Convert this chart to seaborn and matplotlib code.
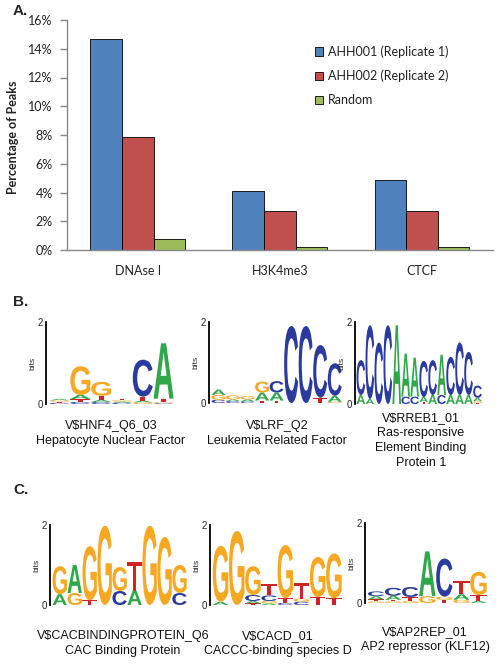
import pandas as pd
import matplotlib
matplotlib.use("Agg")
import matplotlib.pyplot as plt
import matplotlib.transforms as mtransforms
from matplotlib.textpath import TextPath
from matplotlib.patches import PathPatch
from matplotlib.font_manager import FontProperties
from matplotlib.ticker import FuncFormatter
import seaborn as sns

# Panel A data (percentage of peaks)
marks = ["DNAse I", "H3K4me3", "CTCF"]
samples = ["AHH001 (Replicate 1)", "AHH002 (Replicate 2)", "Random"]
rep1 = [14.7, 4.1, 4.9]
rep2 = [7.85, 2.7, 2.7]
rand = [0.75, 0.2, 0.2]
bar_colors = ["#4F81BD", "#C0504D", "#9BBB59"]

# Panels B and C: sequence logos, each position = stack of (letter, bits) from bottom to top
hnf4 = [[("C", 0.03), ("T", 0.03), ("G", 0.03), ("A", 0.03)],
        [("C", 0.05), ("T", 0.07), ("A", 0.1), ("G", 0.7)],
        [("C", 0.05), ("A", 0.05), ("T", 0.1), ("G", 0.34)],
        [("C", 0.03), ("A", 0.03), ("G", 0.03), ("T", 0.04)],
        [("G", 0.04), ("A", 0.04), ("T", 0.1), ("C", 0.9)],
        [("C", 0.02), ("G", 0.02), ("T", 0.09), ("A", 1.35)]]
lrf = [[("C", 0.08), ("G", 0.12), ("A", 0.13)],
       [("C", 0.05), ("A", 0.04), ("G", 0.1)],
       [("C", 0.04), ("A", 0.05), ("G", 0.08)],
       [("T", 0.06), ("A", 0.2), ("G", 0.27)],
       [("T", 0.06), ("A", 0.2), ("C", 0.28)],
       [("C", 1.9)],
       [("C", 1.9)],
       [("T", 0.13), ("C", 1.3)],
       [("G", 0.03), ("A", 0.15), ("C", 0.8)]]
rreb1 = [[("A", 0.22), ("C", 0.85)],
         [("A", 0.12), ("C", 1.8)],
         [("C", 1.5)],
         [("C", 1.92)],
         [("A", 1.92)],
         [("C", 0.18), ("A", 1.05)],
         [("C", 0.18), ("A", 0.95)],
         [("T", 0.05), ("A", 0.12), ("C", 0.88)],
         [("A", 0.22), ("C", 0.85)],
         [("C", 0.22), ("A", 0.98)],
         [("A", 0.22), ("C", 0.93)],
         [("A", 0.22), ("C", 1.28)],
         [("A", 0.22), ("C", 1.05)],
         [("T", 0.03), ("G", 0.04), ("A", 0.08), ("C", 0.3)]]
cacbp = [[("A", 0.27), ("G", 0.7)],
         [("G", 0.3), ("A", 0.7)],
         [("T", 0.12), ("G", 1.35)],
         [("G", 1.98)],
         [("C", 0.35), ("G", 0.6)],
         [("A", 0.36), ("T", 0.72)],
         [("G", 1.98)],
         [("G", 1.7)],
         [("C", 0.3), ("G", 0.7)]]
cacd = [[("A", 0.08), ("G", 1.4)],
        [("G", 1.85)],
        [("T", 0.04), ("A", 0.06), ("C", 0.15), ("G", 0.72)],
        [("A", 0.04), ("G", 0.06), ("C", 0.14), ("T", 0.28)],
        [("C", 0.05), ("T", 0.12), ("G", 1.33)],
        [("C", 0.08), ("G", 0.08), ("T", 0.38)],
        [("T", 0.2), ("G", 1.0)],
        [("T", 0.17), ("G", 1.12)]]
ap2rep = [[("G", 0.04), ("T", 0.05), ("A", 0.08), ("C", 0.12)],
          [("G", 0.04), ("T", 0.04), ("A", 0.1), ("C", 0.2)],
          [("G", 0.05), ("T", 0.1), ("C", 0.25)],
          [("G", 0.17), ("A", 1.12)],
          [("T", 0.08), ("G", 0.08), ("C", 0.95)],
          [("G", 0.08), ("A", 0.14), ("T", 0.33)],
          [("A", 0.05), ("T", 0.15), ("G", 0.58)]]

captions = [["V$HNF4_Q6_03", "Hepatocyte Nuclear Factor"],
            ["V$LRF_Q2", "Leukemia Related Factor"],
            ["V$RREB1_01", "Ras-responsive", "Element Binding", "Protein 1"],
            ["V$CACBINDINGPROTEIN_Q6", "CAC Binding Protein"],
            ["V$CACD_01", "CACCC-binding species D"],
            ["V$AP2REP_01", "AP2 repressor (KLF12)"]]

letter_colors = {"A": "#2FA84A", "C": "#2B3A9E", "G": "#F7A823", "T": "#D02323"}

sns.set_style("white")
plt.rcParams["font.family"] = ["Lato", "DejaVu Sans"]

W, H = 498, 664
fig = plt.figure(figsize=(W / 100, H / 100), dpi=100)


def px_axes(x0, x1, ytop, ybot):
    return fig.add_axes([x0 / W, 1 - ybot / H, (x1 - x0) / W, (ybot - ytop) / H])


# ---- Panel A: bar chart
df = pd.DataFrame({
    "mark": marks * 3,
    "sample": [samples[0]] * 3 + [samples[1]] * 3 + [samples[2]] * 3,
    "pct": rep1 + rep2 + rand,
})
ax = px_axes(66.7, 493, 20, 250)
sns.barplot(data=df, x="mark", y="pct", hue="sample", order=marks, hue_order=samples,
            palette=bar_colors, width=0.667, saturation=1, edgecolor="black",
            linewidth=0.6, ax=ax)
ax.set_xlim(-0.5, 2.5)
ax.set_ylim(0, 16)
ax.set_yticks(range(0, 17, 2))
ax.yaxis.set_major_formatter(FuncFormatter(lambda v, p: f"{v:.0f}%"))
ax.set_xticks([-0.5, 0.5, 1.5, 2.5], minor=True)
ax.tick_params(axis="x", which="major", length=0, pad=11, labelsize=9, colors="#222222")
ax.tick_params(axis="x", which="minor", length=5, direction="out", color="#888888", width=1)
ax.tick_params(axis="y", length=5, direction="out", color="#888888", width=1,
               pad=5, labelsize=9, labelcolor="#222222", left=True)
for s in ["top", "right"]:
    ax.spines[s].set_visible(False)
for s in ["left", "bottom"]:
    ax.spines[s].set_color("#888888")
    ax.spines[s].set_linewidth(1)
ax.set_xlabel("")
ax.set_ylabel("Percentage of Peaks", fontsize=9, fontweight="bold", color="#222222")
ax.yaxis.set_label_coords(-0.113, 0.49)
handles, labels = ax.get_legend_handles_labels()
ax.legend(handles, labels, loc="upper left", bbox_to_anchor=(315 / W, 1 - 45.5 / H),
          bbox_transform=fig.transFigure, frameon=False, fontsize=9,
          handlelength=0.65, handleheight=0.65, handletextpad=0.35,
          labelspacing=0.95, borderpad=0, borderaxespad=0, labelcolor="#222222")

# ---- Panels B and C: sequence logos
logo_font = FontProperties(family="Liberation Sans", weight="bold")


def draw_letter(lax, letter, x, y, w, h):
    path = TextPath((0, 0), letter, size=1, prop=logo_font)
    bb = path.get_extents()
    tr = (mtransforms.Affine2D().translate(-bb.x0, -bb.y0)
          .scale(w / bb.width, h / bb.height).translate(x - w / 2, y))
    lax.add_patch(PathPatch(tr.transform_path(path), facecolor=letter_colors[letter],
                            edgecolor="none"))


def draw_logo(box, logo):
    lax = px_axes(*box)
    for i, stack in enumerate(logo):
        y = 0
        for letter, h in stack:
            draw_letter(lax, letter, i + 1, y, 0.96, h)
            y += h
    lax.set_xlim(0.35, len(logo) + 0.5)
    lax.set_ylim(0, 2)
    lax.set_xticks([])
    lax.set_yticks([0, 2])
    lax.tick_params(axis="y", length=0, pad=2, labelsize=7)
    for s in ["top", "right", "bottom"]:
        lax.spines[s].set_visible(False)
    lax.spines["left"].set_color("black")
    lax.spines["left"].set_linewidth(1.3)
    lax.set_ylabel("bits", fontsize=6, labelpad=1, family="Liberation Sans")
    for t in lax.get_yticklabels():
        t.set_family("Liberation Sans")
    lax.patch.set_alpha(0)
    return lax


logo_boxes = [(46, 174, 322, 404), (209, 342, 322, 403), (355, 482, 322, 404),
              (50, 187, 525, 605), (210, 342, 525, 605), (365, 487, 523, 603)]
logos = [hnf4, lrf, rreb1, cacbp, cacd, ap2rep]
for box, logo in zip(logo_boxes, logos):
    draw_logo(box, logo)

caption_pos = [(111, 426), (277, 426), (421, 418), (123, 636), (278, 636), (425, 632)]
for (cx, cy), lines in zip(caption_pos, captions):
    for k, line in enumerate(lines):
        fig.text(cx / W, 1 - (cy + 15 * k) / H, line, ha="center", va="center",
                 fontsize=9, family="Liberation Sans", color="#111111")

# panel letters
for lab, (lx, ly) in zip(["A.", "B.", "C."], [(13, 11), (13, 302), (13, 490)]):
    fig.text(lx / W, 1 - ly / H, lab, ha="left", va="center", fontsize=11,
             fontweight="bold", family="Liberation Sans")

fig.savefig("out.png", dpi=100)
